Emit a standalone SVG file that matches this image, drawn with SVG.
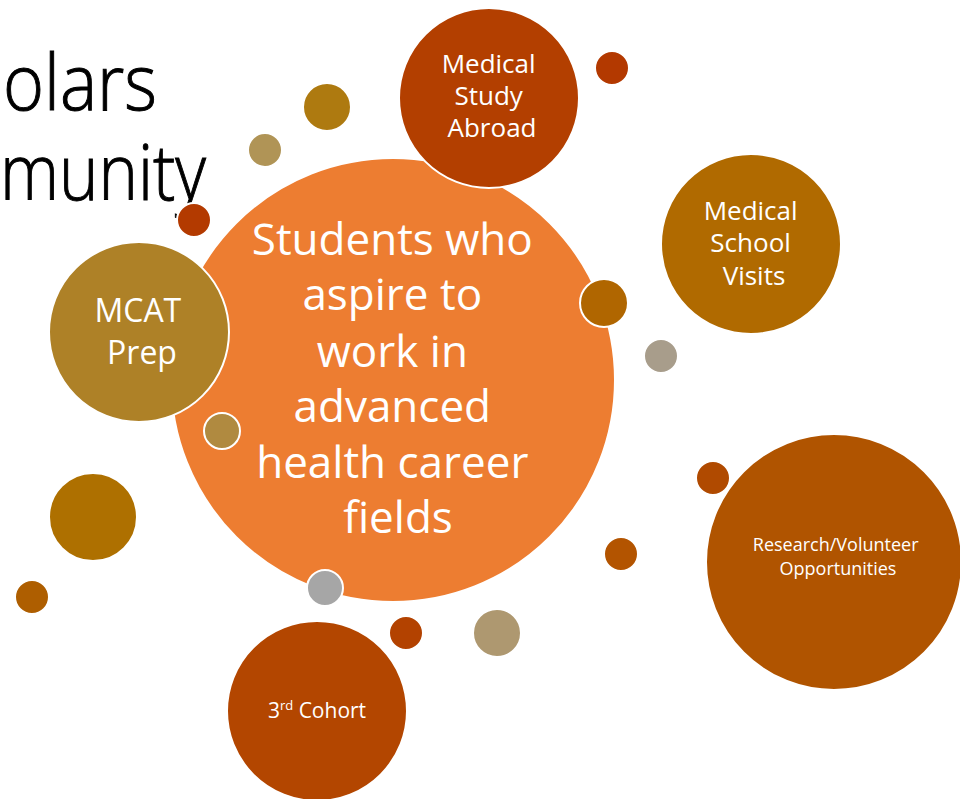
<svg xmlns="http://www.w3.org/2000/svg" width="960" height="799" viewBox="0 0 960 799">
<style>
  .c { stroke: #ffffff; stroke-width: 2; }
  .t { font-family: "Open Sans", "Liberation Sans", sans-serif; fill: #ffffff; text-anchor: middle; }
  .title { font-family: "Open Sans", "Liberation Sans", sans-serif; font-weight: 300; fill: #000000; stroke: #000000; stroke-width: 1; font-size: 78px; }
</style>
<rect width="960" height="799" fill="#ffffff"/>
<g id="title">
  <text class="title" x="3" y="110" textLength="154" lengthAdjust="spacingAndGlyphs">olars</text>
  <text class="title" x="0" y="200" textLength="206" lengthAdjust="spacingAndGlyphs">munity</text>
</g>
<g id="connectors"></g>
<g id="central">
  <circle class="c" cx="393" cy="380" r="222" fill="#ED7D31"/>
  <text class="t" font-size="44">
    <tspan x="398" y="255">Students who</tspan>
    <tspan x="398" y="310">aspire to</tspan>
    <tspan x="398" y="367">work in</tspan>
    <tspan x="398" y="422">advanced</tspan>
    <tspan x="398" y="478">health career</tspan>
    <tspan x="398" y="533">fields</tspan>
  </text>
</g>
<g id="medical-study-abroad">
  <circle class="c" cx="489" cy="98" r="90" fill="#B33F00"/>
  <text class="t" font-size="26">
    <tspan x="492" y="73">Medical</tspan>
    <tspan x="492" y="105">Study</tspan>
    <tspan x="492" y="137">Abroad</tspan>
  </text>
</g>
<g id="medical-school-visits">
  <circle class="c" cx="751" cy="244" r="90" fill="#B06A00"/>
  <text class="t" font-size="26">
    <tspan x="754" y="220">Medical</tspan>
    <tspan x="754" y="252">School</tspan>
    <tspan x="754" y="285">Visits</tspan>
  </text>
</g>
<g id="mcat-prep">
  <circle class="c" cx="139" cy="332" r="90" fill="#AE8127"/>
  <text class="t" font-size="32">
    <tspan x="142" y="322">MCAT</tspan>
    <tspan x="142" y="364">Prep</tspan>
  </text>
</g>
<g id="research-volunteer">
  <circle class="c" cx="834" cy="562" r="128" fill="#B05400"/>
  <text class="t" font-size="18">
    <tspan x="838" y="551">Research/Volunteer</tspan>
    <tspan x="838" y="575">Opportunities</tspan>
  </text>
</g>
<g id="third-cohort">
  <circle class="c" cx="317" cy="711" r="90" fill="#B34600"/>
  <text class="t" font-size="21" x="317" y="718">3<tspan font-size="13" dy="-8">rd</tspan><tspan dy="8"> Cohort</tspan></text>
</g>
<g id="dots">
  <circle class="c" cx="612" cy="68" r="17" fill="#B33900"/>
  <circle class="c" cx="604" cy="303" r="24" fill="#B06600"/>
  <circle class="c" cx="661" cy="356" r="17" fill="#A89D8B"/>
  <circle class="c" cx="713" cy="478" r="17" fill="#B04A00"/>
  <circle class="c" cx="621" cy="554" r="17" fill="#B35400"/>
  <circle class="c" cx="325" cy="588" r="18" fill="#A6A6A6"/>
  <circle class="c" cx="406" cy="633" r="17" fill="#B34200"/>
  <circle class="c" cx="497" cy="633" r="24" fill="#AE9870"/>
  <circle class="c" cx="222" cy="431" r="18" fill="#B08A40"/>
  <circle class="c" cx="93" cy="517" r="44" fill="#AE7000"/>
  <circle class="c" cx="32" cy="597" r="17" fill="#AE5E00"/>
  <circle class="c" cx="327" cy="107" r="24" fill="#AE7A10"/>
  <circle class="c" cx="265" cy="150" r="17" fill="#B09456"/>
  <circle class="c" cx="194" cy="220" r="17" fill="#B33A00"/>
</g>
</svg>
